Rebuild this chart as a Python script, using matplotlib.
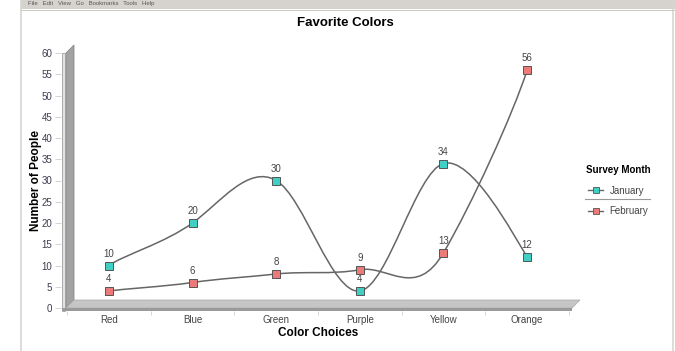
import matplotlib
matplotlib.use("Agg")
import matplotlib.pyplot as plt
from matplotlib.path import Path
from matplotlib.patches import PathPatch, Polygon, Rectangle
from matplotlib.lines import Line2D

plt.rcParams["font.family"] = ["Liberation Sans", "DejaVu Sans"]

# ---- data ----
categories = ["Red", "Blue", "Green", "Purple", "Yellow", "Orange"]
january = [10, 20, 30, 4, 34, 12]
february = [4, 6, 8, 9, 13, 56]
y_ticks = list(range(0, 61, 5))

JAN_COLOR = "#3fcfc4"
FEB_COLOR = "#ec7a78"
LINE_COLOR = "#666666"
W, H = 675, 351


def px(x, y):
    # pixel (from top-left) -> figure fraction
    return x / W, 1 - y / H


def smooth_path(xs, ys, k=4.2):
    # cardinal spline as cubic bezier segments through the data points
    pts = list(zip(xs, ys))
    pts_ext = [pts[0]] + pts + [pts[-1]]
    verts = [pts[0]]
    codes = [Path.MOVETO]
    for i in range(1, len(pts_ext) - 2):
        p0, p1, p2, p3 = pts_ext[i - 1], pts_ext[i], pts_ext[i + 1], pts_ext[i + 2]
        c1 = (p1[0] + (p2[0] - p0[0]) / 6, p1[1] + (p2[1] - p0[1]) / k)
        c2 = (p2[0] - (p3[0] - p1[0]) / 6, p2[1] - (p3[1] - p1[1]) / k)
        verts += [c1, c2, p2]
        codes += [Path.CURVE4] * 3
    return Path(verts, codes)


fig = plt.figure(figsize=(W / 100, H / 100), dpi=100)

# ---- background: browser frame + 3D wall/floor ----
bg = fig.add_axes([0, 0, 1, 1], zorder=0)
bg.set_xlim(0, W)
bg.set_ylim(H, 0)
bg.axis("off")
bg.add_patch(Rectangle((21, 0), W - 21, 9, facecolor="#d6d3ce", edgecolor="none"))
bg.plot([21, 21], [0, H], color="#d8d5d0", lw=1.2)
bg.plot([673, 673], [0, H], color="#d8d5d0", lw=1.2)
bg.plot([21, W], [9.5, 9.5], color="#c4c1bb", lw=0.6)
bg.text(28, 3.5, "File   Edit   View   Go   Bookmarks   Tools   Help",
        fontsize=4.3, color="#555555", va="center", ha="left")
bg.add_patch(Polygon([(66, 308), (66, 53), (74, 45), (74, 300)], closed=True,
                     facecolor="#a2a2a2", edgecolor="#8a8a8a", lw=0.6))
bg.add_patch(Rectangle((62, 53), 3, 258, facecolor="#e2e2e2", edgecolor="#909090", lw=0.5))
bg.add_patch(Polygon([(66, 308), (74, 300), (580, 300), (572, 308)], closed=True,
                     facecolor="#c6c6c6", edgecolor="#a8a8a8", lw=0.5))
bg.add_patch(Rectangle((62, 307.5), 510, 3, facecolor="#9a9a9a", edgecolor="none"))

# ---- main chart ----
l, b = px(67, 308)
r, t = px(569, 53)
ax = fig.add_axes([l, b, r - l, t - b], zorder=2)
ax.patch.set_visible(False)
ax.set_xlim(-0.5, 5.5)
ax.set_ylim(0, 60)

xs = list(range(len(categories)))
for vals, col in [(january, JAN_COLOR), (february, FEB_COLOR)]:
    ax.add_patch(PathPatch(smooth_path(xs, vals), facecolor="none",
                           edgecolor=LINE_COLOR, lw=1.1, zorder=3))
    ax.plot(xs, vals, linestyle="none", marker="s", markersize=5.5,
            markerfacecolor=col, markeredgecolor="#555555",
            markeredgewidth=0.7, zorder=4)
    for x, v in zip(xs, vals):
        ax.annotate(str(v), (x, v), xytext=(0, 8.5), textcoords="offset points",
                    ha="center", va="center", fontsize=7, color="#444444")

for s in ax.spines.values():
    s.set_visible(False)
ax.spines["left"].set_position(("outward", 4))
ax.spines["bottom"].set_position(("outward", 2))

ax.set_yticks(y_ticks)
ax.set_yticklabels([str(v) for v in y_ticks])
ax.tick_params(axis="y", length=4, width=0.6, color="#cccccc", pad=2.5,
               labelsize=7, labelcolor="#3c3c50")

ax.set_xticks(xs)
ax.set_xticklabels(categories)
ax.set_xticks([x - 0.5 for x in range(len(categories) + 1)], minor=True)
ax.tick_params(axis="x", which="major", length=0, pad=3, labelsize=7,
               labelcolor="#444444")
ax.tick_params(axis="x", which="minor", length=3, width=0.6, color="#d0d0d0")

ax.set_xlabel("Color Choices", fontsize=8.5, fontweight="bold", labelpad=1.5)
ax.set_ylabel("Number of People", fontsize=8.5, fontweight="bold", labelpad=0)

fig.text(*px(345, 23), "Favorite Colors", fontsize=9.5, fontweight="bold",
         ha="center", va="center")

# ---- legend ----
handles = [
    Line2D([], [], color=LINE_COLOR, lw=1.0, marker="s", markersize=5,
           markerfacecolor=JAN_COLOR, markeredgecolor="#555555", markeredgewidth=0.6),
    Line2D([], [], color=LINE_COLOR, lw=1.0, marker="s", markersize=5,
           markerfacecolor=FEB_COLOR, markeredgecolor="#555555", markeredgewidth=0.6),
]
leg = fig.legend(handles, ["January", "February"], title="Survey Month",
                 loc="upper left", bbox_to_anchor=px(586, 165), frameon=False,
                 fontsize=7, title_fontproperties={"weight": "bold", "size": 7},
                 handlelength=1.5, handletextpad=0.7, labelspacing=1.1,
                 borderpad=0, borderaxespad=0)
for txt in leg.get_texts():
    txt.set_color("#444444")
bg.plot([585, 650], [199, 199], color="#999999", lw=0.8)

fig.savefig("out.png", dpi=100)
